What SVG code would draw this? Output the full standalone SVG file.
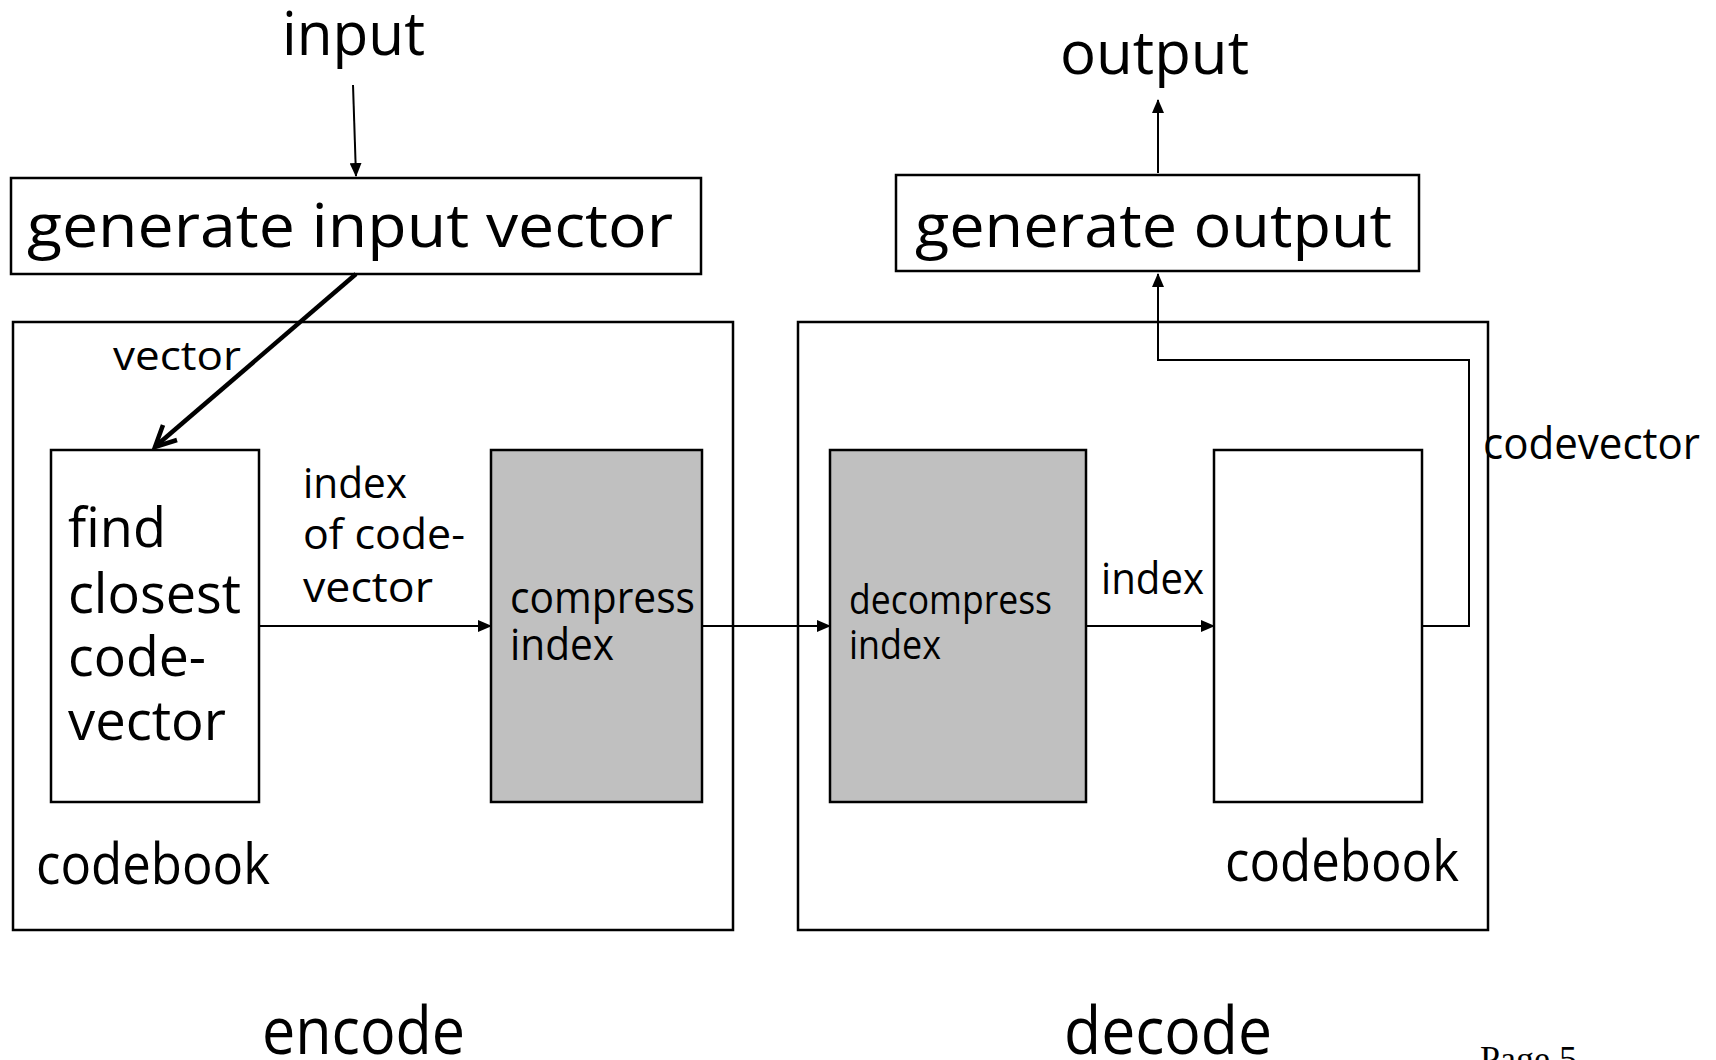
<svg xmlns="http://www.w3.org/2000/svg" width="1716" height="1060" viewBox="0 0 1716 1060">
<style>
.box{fill:#fff;stroke:#000;stroke-width:2.5}
.gray{fill:#c0c0c0;stroke:#000;stroke-width:2.5}
.t{font-family:"Open Sans","Noto Sans","Liberation Sans",sans-serif;fill:#000}
.c{fill:none;stroke:#000;stroke-width:2}
</style>
<defs>
<marker id="ah" markerUnits="userSpaceOnUse" markerWidth="14" markerHeight="12" refX="13" refY="6" orient="auto">
<path d="M0,0 L14,6 L0,12 Z" fill="#000"/>
</marker>
</defs>
<rect width="1716" height="1060" fill="#fff"/>

<g id="encode-panel">
<rect class="box" x="13" y="322" width="720" height="608"/>
<text class="t" x="36" y="884" font-size="56" textLength="234" lengthAdjust="spacingAndGlyphs">codebook</text>
</g>
<g id="decode-panel">
<rect class="box" x="798" y="322" width="690" height="608"/>
<text class="t" x="1225" y="881" font-size="56" textLength="234" lengthAdjust="spacingAndGlyphs">codebook</text>
</g>

<g id="input-label">
<text class="t" x="282" y="55" font-size="60" textLength="143" lengthAdjust="spacingAndGlyphs">input</text>
</g>
<g id="output-label">
<text class="t" x="1060" y="74" font-size="60" textLength="189" lengthAdjust="spacingAndGlyphs">output</text>
</g>

<g id="generate-input-vector">
<rect class="box" x="11" y="178" width="690" height="96"/>
<text class="t" x="27" y="247" font-size="60" textLength="646" lengthAdjust="spacingAndGlyphs">generate input vector</text>
</g>
<g id="generate-output">
<rect class="box" x="896" y="175" width="523" height="96"/>
<text class="t" x="915" y="247" font-size="60" textLength="477" lengthAdjust="spacingAndGlyphs">generate output</text>
</g>

<g id="find-closest">
<rect class="box" x="51" y="450" width="208" height="352"/>
<text class="t" font-size="54">
<tspan x="68" y="547" textLength="98" lengthAdjust="spacingAndGlyphs">find</tspan>
<tspan x="68" y="613" textLength="173" lengthAdjust="spacingAndGlyphs">closest</tspan>
<tspan x="68" y="676" textLength="138" lengthAdjust="spacingAndGlyphs">code-</tspan>
<tspan x="68" y="740" textLength="158" lengthAdjust="spacingAndGlyphs">vector</tspan>
</text>
</g>
<g id="compress-index">
<rect class="gray" x="491" y="450" width="211" height="352"/>
<text class="t" font-size="44">
<tspan x="510" y="613" textLength="185" lengthAdjust="spacingAndGlyphs">compress</tspan>
<tspan x="510" y="660" textLength="104" lengthAdjust="spacingAndGlyphs">index</tspan>
</text>
</g>
<g id="decompress-index">
<rect class="gray" x="830" y="450" width="256" height="352"/>
<text class="t" font-size="40">
<tspan x="849" y="614" textLength="203" lengthAdjust="spacingAndGlyphs">decompress</tspan>
<tspan x="849" y="659" textLength="92" lengthAdjust="spacingAndGlyphs">index</tspan>
</text>
</g>
<g id="codebook-lookup">
<rect class="box" x="1214" y="450" width="208" height="352"/>
</g>

<g id="connectors">
<line class="c" x1="353" y1="85" x2="356" y2="176" marker-end="url(#ah)"/>
<line class="c" x1="1158" y1="173" x2="1158" y2="100" marker-end="url(#ah)"/>
<line x1="356" y1="274" x2="157" y2="445" stroke="#000" stroke-width="4.5"/>
<polyline points="163,425 155,447 177,440" fill="none" stroke="#000" stroke-width="4.5" stroke-linejoin="miter"/>
<line class="c" x1="259" y1="626" x2="491" y2="626" marker-end="url(#ah)"/>
<line class="c" x1="702" y1="626" x2="830" y2="626" marker-end="url(#ah)"/>
<line class="c" x1="1086" y1="626" x2="1214" y2="626" marker-end="url(#ah)"/>
<polyline class="c" points="1422,626 1469,626 1469,360 1158,360 1158,274" marker-end="url(#ah)"/>
</g>

<g id="labels">
<text class="t" x="113" y="370" font-size="40" textLength="128" lengthAdjust="spacingAndGlyphs">vector</text>
<text class="t" font-size="42">
<tspan x="303" y="498" textLength="104" lengthAdjust="spacingAndGlyphs">index</tspan>
<tspan x="303" y="549" textLength="162" lengthAdjust="spacingAndGlyphs">of code-</tspan>
<tspan x="303" y="602" textLength="130" lengthAdjust="spacingAndGlyphs">vector</tspan>
</text>
<text class="t" x="1101" y="594" font-size="44" textLength="103" lengthAdjust="spacingAndGlyphs">index</text>
<text class="t" x="1483" y="459" font-size="44" textLength="217" lengthAdjust="spacingAndGlyphs">codevector</text>
<text class="t" x="262" y="1054" font-size="66" textLength="203" lengthAdjust="spacingAndGlyphs">encode</text>
<text class="t" x="1064" y="1054" font-size="66" textLength="208" lengthAdjust="spacingAndGlyphs">decode</text>
<text x="1480" y="1071" font-family="'Liberation Serif','Times New Roman',serif" font-size="36" fill="#000">Page 5</text>
</g>
</svg>
